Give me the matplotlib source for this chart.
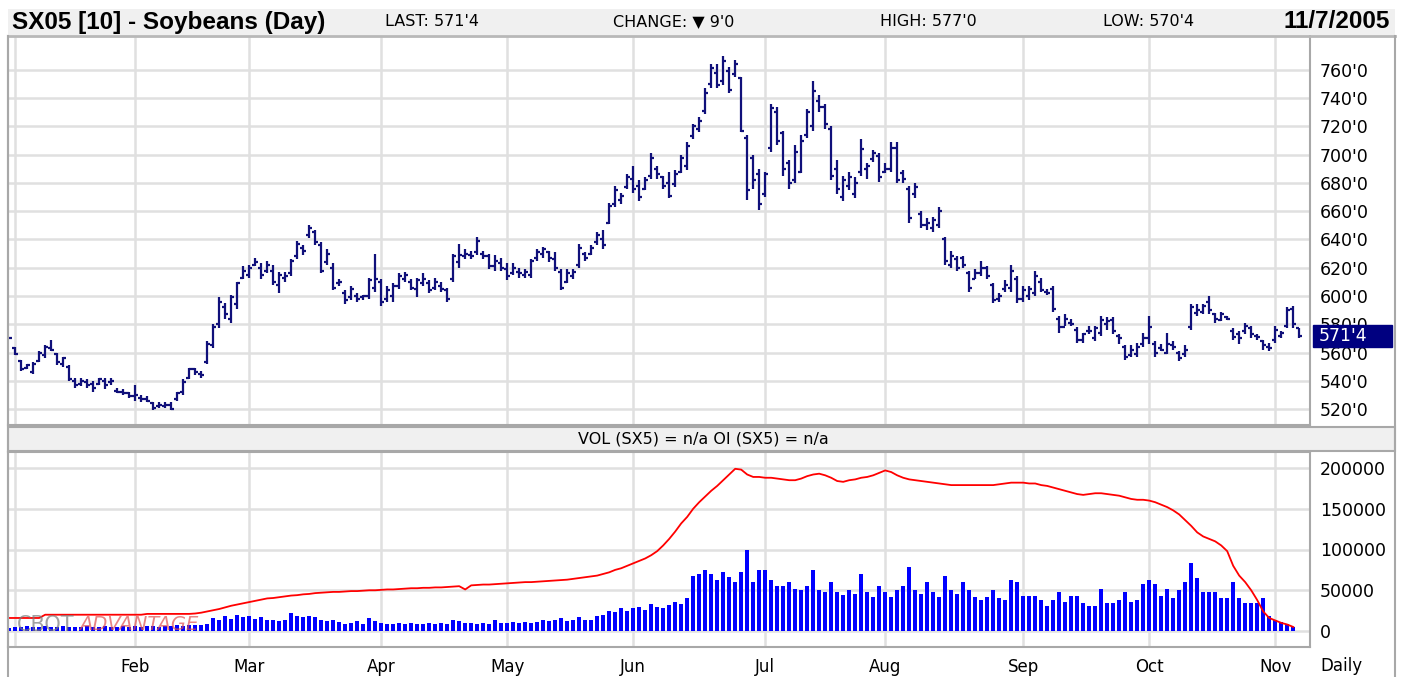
import matplotlib
matplotlib.use("Agg")
import matplotlib.pyplot as plt
import matplotlib.transforms as mtransforms
from matplotlib.patches import Rectangle
from matplotlib.lines import Line2D
import numpy as np
import pandas as pd

W, H = 1403, 677

# ---- data ----
holidays = ["2005-01-17", "2005-02-21", "2005-03-25", "2005-05-30",
            "2005-07-04", "2005-09-05"]

highs = [570.5, 564, 555, 552, 553, 561, 565, 569, 560, 557,
         551, 542, 542, 541, 540, 542, 542, 542, 535, 534,
         532, 537, 530, 529, 525, 525, 525, 525, 532, 541,
         549, 549, 547, 568, 580, 599, 595, 601, 610, 621,
         622, 627, 623, 625, 622, 617, 617, 626, 639, 636,
         650, 647, 638, 633, 623, 612, 604, 607, 602, 601,
         613, 630, 612, 607, 609, 616, 617, 612, 613, 616,
         611, 613, 610, 606, 630, 637, 633, 632, 642, 632,
         630, 629, 627, 623, 623, 620, 619, 626, 633, 635,
         632, 631, 619, 619, 619, 637, 631, 636, 645, 647,
         666, 678, 673, 686, 692, 682, 684, 701, 692, 685,
         688, 689, 700, 709, 722, 727, 747, 764, 764, 770,
         762, 767, 755, 714, 700, 690, 688, 736, 734, 717,
         696, 707, 714, 732, 752, 742, 736, 720, 696, 685,
         688, 684, 711, 694, 703, 701, 694, 709, 709, 689,
         678, 680, 660, 655, 656, 663, 642, 632, 628, 628,
         618, 619, 625, 621, 609, 602, 611, 622, 614, 607,
         607, 618, 613, 605, 607, 586, 587, 584, 578, 574,
         579, 579, 586, 585, 585, 573, 565, 565, 567, 574,
         586, 568, 566, 574, 568, 561, 565, 594, 594, 594,
         600, 588, 589, 586, 577, 575, 581, 579, 573, 569,
         567, 579, 575, 592, 593, 577]

lows = [569.5, 558, 547, 548, 545, 553, 556, 561, 551, 550,
        540, 535, 536, 535, 532, 537, 534, 537, 531, 530,
        528, 526, 525, 525, 519, 521, 521, 519, 526, 530,
        541, 544, 542, 552, 563, 577, 584, 581, 591, 612,
        613, 621, 612, 616, 608, 602, 610, 614, 626, 629,
        641, 636, 616, 622, 604, 607, 594, 597, 596, 597,
        598, 603, 593, 596, 596, 605, 610, 604, 599, 607,
        602, 604, 603, 596, 610, 620, 626, 626, 629, 626,
        619, 618, 618, 611, 615, 613, 613, 613, 625, 627,
        624, 618, 604, 609, 612, 620, 625, 629, 636, 633,
        651, 663, 665, 676, 673, 667, 675, 683, 683, 676,
        669, 677, 687, 689, 711, 716, 729, 747, 747, 749,
        744, 755, 716, 668, 676, 661, 670, 702, 707, 685,
        676, 680, 687, 712, 717, 730, 718, 682, 672, 667,
        675, 669, 685, 683, 695, 681, 687, 688, 680, 680,
        652, 669, 648, 647, 645, 648, 622, 620, 618, 620,
        603, 612, 614, 612, 595, 596, 603, 603, 595, 596,
        597, 600, 603, 601, 589, 574, 579, 579, 567, 567,
        573, 568, 572, 576, 573, 566, 555, 557, 557, 564,
        566, 557, 561, 559, 562, 554, 557, 576, 586, 587,
        587, 581, 582, 583, 569, 566, 573, 570, 569, 562,
        561, 567, 570, 577, 577, 570.5]

opens = [570, 563, 554, 549, 546, 554, 558, 563, 559, 552,
         550, 540, 538, 539, 538, 538, 540, 539, 533, 532,
         531, 529, 528, 527, 524, 522, 522, 523, 527, 532,
         542, 548, 545, 553, 565, 580, 592, 584, 594, 613,
         615, 622, 620, 618, 618, 608, 613, 616, 628, 634,
         643, 645, 636, 624, 620, 609, 602, 599, 600, 599,
         600, 606, 610, 598, 600, 607, 612, 610, 605, 609,
         609, 606, 607, 604, 612, 624, 628, 629, 631, 630,
         628, 621, 623, 619, 616, 617, 615, 615, 627, 630,
         631, 626, 617, 610, 614, 622, 630, 630, 638, 640,
         652, 665, 668, 677, 683, 678, 676, 685, 690, 684,
         680, 679, 688, 692, 713, 718, 731, 750, 758, 752,
         759, 757, 754, 712, 698, 686, 672, 705, 730, 715,
         694, 682, 688, 714, 720, 738, 734, 718, 690, 670,
         678, 672, 688, 690, 697, 699, 688, 690, 705, 687,
         676, 672, 658, 650, 648, 650, 640, 622, 626, 627,
         616, 612, 616, 620, 608, 598, 605, 606, 612, 598,
         600, 602, 610, 603, 605, 584, 578, 581, 576, 569,
         575, 570, 574, 580, 583, 572, 564, 558, 559, 566,
         570, 566, 563, 560, 565, 560, 559, 578, 588, 589,
         596, 587, 583, 585, 575, 573, 575, 577, 572, 568,
         564, 569, 572, 579, 591, 577]

closes = [570, 559, 548, 551, 552, 560, 564, 562, 553, 556,
          541, 537, 540, 537, 535, 541, 537, 540, 532, 531,
          529, 530, 527, 526, 521, 523, 523, 520, 531, 539,
          548, 546, 544, 566, 578, 596, 587, 599, 609, 618,
          620, 624, 615, 622, 610, 615, 614, 625, 637, 632,
          648, 638, 618, 630, 606, 610, 597, 605, 598, 600,
          611, 612, 596, 604, 607, 614, 615, 606, 611, 612,
          604, 610, 605, 598, 628, 629, 630, 628, 639, 628,
          621, 625, 620, 614, 620, 616, 617, 625, 631, 633,
          627, 620, 606, 616, 617, 634, 627, 634, 643, 636,
          664, 675, 671, 684, 676, 670, 682, 698, 686, 678,
          671, 686, 698, 706, 720, 724, 744, 761, 749, 766,
          746, 764, 717, 675, 682, 665, 686, 733, 710, 690,
          680, 702, 710, 730, 745, 734, 722, 685, 676, 682,
          684, 680, 704, 692, 701, 684, 690, 705, 682, 683,
          655, 677, 650, 652, 654, 660, 625, 628, 620, 622,
          606, 616, 620, 614, 597, 600, 608, 618, 598, 604,
          605, 614, 604, 602, 591, 578, 584, 580, 569, 573,
          575, 577, 583, 582, 575, 570, 557, 562, 564, 570,
          578, 560, 562, 566, 564, 556, 562, 592, 590, 593,
          590, 584, 587, 584, 571, 570, 579, 573, 571, 565,
          563, 576, 574, 590, 580.5, 571.5]

volume = [4000, 5000, 5000, 6000, 5000, 5000, 6000, 5000, 5000, 6000,
          5000, 5000, 5000, 6000, 5000, 5000, 6000, 5000, 5000, 6000,
          5000, 6000, 5000, 6000, 6000, 5000, 6000, 6000, 7000, 6000,
          7000, 8000, 7000, 9000, 16000, 13000, 18000, 15000, 20000, 17000,
          19000, 15000, 17000, 14000, 13000, 12000, 13000, 22000, 19000, 17000,
          18000, 17000, 14000, 12000, 13000, 11000, 9000, 10000, 12000, 9000,
          16000, 12000, 10000, 9000, 9000, 10000, 9000, 10000, 9000, 9000,
          10000, 9000, 10000, 9000, 14000, 12000, 10000, 10000, 9000, 10000,
          9000, 14000, 10000, 10000, 11000, 10000, 11000, 10000, 11000, 13000,
          12000, 14000, 16000, 12000, 14000, 17000, 13000, 14000, 18000, 20000,
          25000, 23000, 28000, 25000, 28000, 30000, 26000, 33000, 30000, 28000,
          32000, 35000, 33000, 40000, 67000, 70000, 75000, 70000, 63000, 72000,
          66000, 60000, 72000, 100000, 60000, 75000, 75000, 62000, 55000, 55000,
          60000, 52000, 50000, 55000, 75000, 50000, 48000, 60000, 48000, 44000,
          50000, 45000, 70000, 48000, 42000, 55000, 48000, 42000, 50000, 55000,
          78000, 50000, 45000, 60000, 48000, 42000, 68000, 50000, 45000, 60000,
          50000, 42000, 38000, 42000, 50000, 40000, 38000, 63000, 60000, 43000,
          43000, 43000, 38000, 31000, 38000, 48000, 36000, 43000, 43000, 34000,
          31000, 31000, 52000, 34000, 34000, 38000, 48000, 36000, 38000, 58000,
          63000, 58000, 43000, 52000, 41000, 50000, 60000, 83000, 65000, 48000,
          48000, 48000, 41000, 41000, 60000, 41000, 34000, 34000, 34000, 41000,
          18000, 13000, 11000, 9000, 5000]

open_interest = [16000, 16000, 16000, 16000, 16000, 16000, 20000, 20000, 20000, 20000,
                 20000, 20000, 20000, 20000, 20000, 20000, 20000, 20000, 20000, 20000,
                 20000, 20000, 20000, 21000, 21000, 21000, 21000, 21000, 21000, 21000,
                 21000, 21500, 22500, 24000, 25500, 27000, 29000, 31000, 32500, 34000,
                 35500, 37000, 38500, 40000, 40500, 41500, 42500, 43500, 44000, 45000,
                 45500, 46500, 47000, 47500, 48000, 48000, 48500, 49000, 49000, 49500,
                 50000, 50000, 50500, 51000, 51000, 51500, 52000, 52500, 52500, 53000,
                 53000, 53500, 53500, 54000, 54500, 55000, 51000, 56000, 56500, 57000,
                 57000, 57500, 58000, 58500, 59000, 59500, 60000, 60000, 60500, 61000,
                 61500, 62000, 62500, 63000, 64000, 65000, 66000, 67000, 68000, 70000,
                 72000, 75000, 77000, 80000, 83000, 86000, 89000, 93000, 98000, 105000,
                 113000, 122000, 132000, 140000, 150000, 158000, 165000, 172000, 178000, 185000,
                 192000, 199000, 198000, 192000, 189000, 189000, 188000, 188000, 187000, 186000,
                 185000, 185000, 187000, 190000, 192000, 193000, 191000, 188000, 184000, 183000,
                 185000, 186000, 188000, 189000, 191000, 194000, 197000, 195000, 191000, 188000,
                 186000, 185000, 184000, 183000, 182000, 181000, 180000, 179000, 179000, 179000,
                 179000, 179000, 179000, 179000, 179000, 180000, 181000, 182000, 182000, 182000,
                 181000, 181000, 179000, 178000, 176000, 174000, 172000, 170000, 168000, 167000,
                 168000, 169000, 169000, 168000, 167000, 166000, 164000, 162000, 161000, 161000,
                 160000, 158000, 155000, 152000, 148000, 143000, 136000, 129000, 121000, 116000,
                 113000, 110000, 105000, 98000, 80000, 68000, 60000, 50000, 38000, 24000,
                 16000, 13000, 10000, 8000, 5000]

price_ticks = list(range(520, 761, 20))
vol_ticks = [0, 50000, 100000, 150000, 200000]
last_price = 571.5
last_label = "571'4"

# ---- colors ----
NAVY = "#10107a"
GRID = "#e0e0e0"
BORDER = "#a8a8a8"
BAND = "#f0f0f0"


def fx(px):
    return px / W


def fy(py):
    return 1 - py / H


dates = pd.bdate_range("2004-12-31", "2005-11-07")
dates = dates[~dates.isin(pd.to_datetime(holidays))]
x = np.arange(len(dates))
xv = x[:len(volume)]
month_idx = [i for i in range(1, len(dates)) if dates[i].month != dates[i - 1].month]
month_lbl = ["" if dates[i].month == 1 else dates[i].strftime("%b") for i in month_idx]

fig = plt.figure(figsize=(W / 100, H / 100), dpi=100)
fig.patch.set_facecolor("white")

# header band
fig.patches.append(Rectangle((fx(8), fy(35)), fx(1387), 26 / H, transform=fig.transFigure,
                             fc=BAND, ec="none", zorder=0))
fig.lines.append(Line2D([fx(8), fx(1395)], [fy(35.5), fy(35.5)], transform=fig.transFigure,
                        color="#b8b8b8", lw=2))
# separator band between panels
fig.patches.append(Rectangle((fx(8), fy(451)), fx(1387), 24 / H, transform=fig.transFigure,
                             fc=BAND, ec=BORDER, lw=1.5, zorder=0))
# outer borders
fig.lines.append(Line2D([fx(1395), fx(1395)], [fy(36), fy(677)], transform=fig.transFigure,
                        color=BORDER, lw=1.5))
fig.lines.append(Line2D([fx(8), fx(8)], [fy(36), fy(677)], transform=fig.transFigure,
                        color=BORDER, lw=1.5))

title_font = ["Liberation Sans Narrow", "Liberation Sans", "DejaVu Sans"]
fig.text(fx(12), fy(22), "SX05 [10] - Soybeans (Day)", fontsize=17.5, fontweight="bold",
         family=title_font, va="center", ha="left")
fig.text(fx(385), fy(22), "LAST: 571'4", fontsize=11.5, va="center", ha="left")
fig.text(fx(613), fy(22), "CHANGE: \u25bc 9'0", fontsize=11.5, va="center", ha="left")
fig.text(fx(880), fy(22), "HIGH: 577'0", fontsize=11.5, va="center", ha="left")
fig.text(fx(1103), fy(22), "LOW: 570'4", fontsize=11.5, va="center", ha="left")
fig.text(fx(1390), fy(22), "11/7/2005", fontsize=17.5, fontweight="bold",
         family=title_font, va="center", ha="right")
fig.text(fx(703), fy(439), "VOL (SX5) = n/a OI (SX5) = n/a", fontsize=11.5,
         va="center", ha="center")

# ---- price panel ----
ax = fig.add_axes([fx(8), fy(425), fx(1302), 389 / H])
ax.set_xlim(-0.2, 216.8)
ax.set_ylim(508.7, 784)
ax.vlines(x, lows, highs, color=NAVY, lw=1.6, zorder=3)
ax.hlines(opens, x - 0.5, x, color=NAVY, lw=1.6, zorder=3)
ax.hlines(closes, x, x + 0.5, color=NAVY, lw=1.6, zorder=3)
ax.set_yticks(price_ticks)
ax.set_yticklabels([f"{v}'0" for v in price_ticks])
ax.set_xticks(month_idx)
ax.set_xticklabels([])
ax.yaxis.tick_right()
ax.tick_params(axis="y", length=0, pad=7, labelsize=12.5)
ax.tick_params(axis="x", length=0)
ax.grid(True, color=GRID, lw=1.8, zorder=0)
for s in ax.spines.values():
    s.set_color(BORDER)
    s.set_linewidth(1.5)
ax.spines["top"].set_visible(False)

# last price marker on the right scale (covers the 580'0 label as in the original)
blend = mtransforms.blended_transform_factory(ax.transAxes, ax.transData)
ax.add_patch(Rectangle((1.0023, last_price - 7.8), 0.061, 15.6, transform=blend,
                       fc="#000080", ec="#000080", clip_on=False, zorder=5))
ax.text(1.0065, last_price, last_label, transform=blend, color="white", fontsize=12.5,
        va="center", ha="left", zorder=6, clip_on=False)

# ---- volume / open interest panel ----
av = fig.add_axes([fx(8), fy(647), fx(1302), 195 / H])
av.set_xlim(-0.2, 216.8)
av.set_ylim(-19600, 219600)
av.bar(xv, volume, width=0.62, color="#0000ff", zorder=3)
av.plot(xv, open_interest, color="#ff0000", lw=1.3, zorder=4)
av.set_yticks(vol_ticks)
av.set_yticklabels([str(v) for v in vol_ticks])
av.yaxis.tick_right()
av.set_xticks(month_idx)
av.set_xticklabels(month_lbl)
av.tick_params(axis="y", length=0, pad=7, labelsize=12.5)
av.tick_params(axis="x", length=0, pad=8, labelsize=12)
av.grid(True, color=GRID, lw=1.8, zorder=0)
for s in av.spines.values():
    s.set_color(BORDER)
    s.set_linewidth(1.5)

fig.text(fx(1320), fy(666), "Daily", fontsize=12, va="center", ha="left")

# watermark
fig.text(fx(17), fy(625), "CBOT", fontsize=15, color="#7a7a7a", alpha=0.7,
         va="center", ha="left", zorder=10)
fig.text(fx(79), fy(625), "ADVANTAGE", fontsize=14, color="#e05050", alpha=0.7,
         style="italic", va="center", ha="left", zorder=10)

fig.savefig("out.png", dpi=100)
